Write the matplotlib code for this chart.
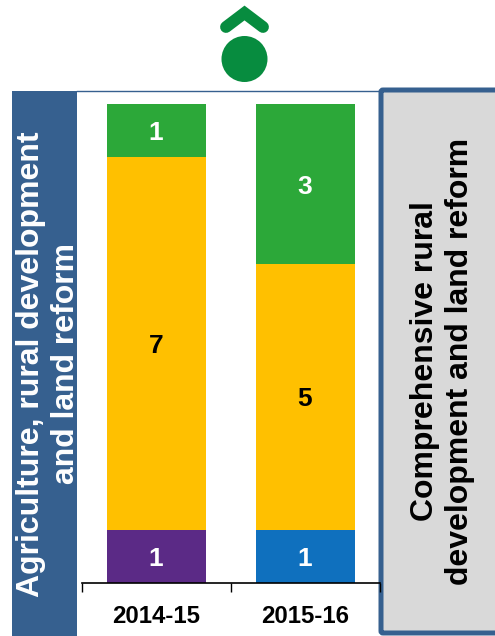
import matplotlib

matplotlib.use("Agg")
import matplotlib.pyplot as plt
from matplotlib.patches import Circle, Rectangle, FancyBboxPatch

plt.rcParams["font.family"] = ["Liberation Sans", "DejaVu Sans"]

W, H = 495, 636

years = ["2014-15", "2015-16"]
bottom_vals = [1, 1]
middle_vals = [7, 5]
top_vals = [1, 3]
bottom_colors = ["#5B2A86", "#0F70BE"]
MIDDLE_COLOR = "#FFC000"
TOP_COLOR = "#2CA839"
BLUE = "#36608F"
ICON_GREEN = "#078C3F"

left_label = "Agriculture, rural development\nand land reform"
right_label = "Comprehensive rural\ndevelopment and land reform"


def px_axes(fig, left, top, right, bottom):
    """axes placed using pixel edges measured from the top left corner"""
    return fig.add_axes([left / W, 1 - bottom / H, (right - left) / W, (bottom - top) / H])


def bar_label(ax, x, y, s, color):
    # labels sit a little under the segment centre in the reference
    ax.annotate(s, (x, y), xytext=(-0.5, -2), textcoords="offset points", color=color,
                fontsize=19, fontweight="bold", ha="center", va="center")


fig = plt.figure(figsize=(W / 100, H / 100), dpi=100)

# overlay in pixel coords for the panels and the icon
bg = fig.add_axes([0, 0, 1, 1])
bg.set_xlim(0, W)
bg.set_ylim(H, 0)
bg.axis("off")

bg.add_patch(Rectangle((12, 91), 65, 545, color=BLUE, lw=0))
bg.plot([77, 380], [91, 91], color=BLUE, lw=1)
bg.add_patch(
    FancyBboxPatch(
        (381, 90), 120, 543,
        boxstyle="round,pad=0,rounding_size=2",
        fc="#D9D9D9", ec=BLUE, lw=3.6,
    )
)
bg.text(48.5, 364, left_label, rotation=90, color="white", fontsize=23,
        fontweight="bold", ha="center", va="center", linespacing=1.18)
bg.text(442.5, 361, right_label, rotation=90, color="black", fontsize=23,
        fontweight="bold", ha="center", va="center", linespacing=1.22)

bg.add_patch(Circle((244.5, 59), 23, color=ICON_GREEN, lw=0))
bg.plot([226, 244.5, 263], [27, 13, 27], color=ICON_GREEN, lw=8.5,
        solid_capstyle="round", solid_joinstyle="miter")

ax = px_axes(fig, 82, 104, 380, 583)
ax.patch.set_alpha(0)
x = range(len(years))
ax.bar(x, bottom_vals, width=0.67, color=bottom_colors)
ax.bar(x, middle_vals, width=0.67, bottom=bottom_vals, color=MIDDLE_COLOR)
stack = [a + b for a, b in zip(bottom_vals, middle_vals)]
ax.bar(x, top_vals, width=0.67, bottom=stack, color=TOP_COLOR)

for i in x:
    bar_label(ax, i, bottom_vals[i] / 2, str(bottom_vals[i]), "white")
    bar_label(ax, i, bottom_vals[i] + middle_vals[i] / 2, str(middle_vals[i]), "black")
    bar_label(ax, i, stack[i] + top_vals[i] / 2, str(top_vals[i]), "white")

ax.set_xlim(-0.5, 1.5)
ax.set_ylim(0, 9)
ax.set_yticks([])
for side in ["top", "left", "right"]:
    ax.spines[side].set_visible(False)
ax.spines["bottom"].set_linewidth(1.2)
ax.spines["bottom"].set_color("black")

# ticks sit at the category edges, labels in between
ax.set_xticks([-0.5, 0.5, 1.5])
ax.set_xticklabels([])
ax.tick_params(axis="x", length=6.5, width=1, color="black")
ax.set_xticks(list(x), minor=True)
ax.set_xticklabels(years, minor=True, fontsize=17.3, fontweight="bold")
ax.tick_params(axis="x", which="minor", length=0, pad=15.5)

fig.savefig("out.png", dpi=100)
